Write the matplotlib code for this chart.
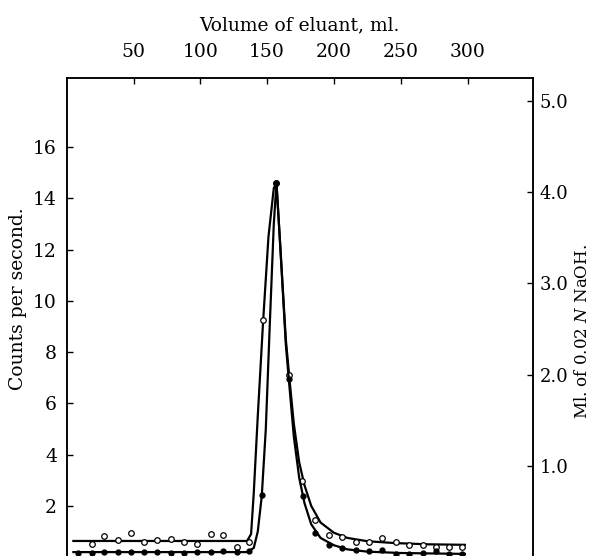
import matplotlib
matplotlib.use("Agg")
import matplotlib.pyplot as plt

plt.rcParams['font.family'] = ['DejaVu Serif']
plt.rcParams['mathtext.fontset'] = 'dejavuserif'

# --- data ---
# open circles: counts per second (left axis)
open_vol = [18.7, 28.1, 38.1, 47.9, 58, 67.8, 77.8, 87.5, 97.5, 107.7, 117.1, 127.1,
            136.6, 147, 157, 166.5, 176.2, 186.2, 196.4, 206.4, 216.4, 226.3, 236.3,
            246.3, 256.2, 266.3, 276.2, 286.2, 296.2]
open_counts = [0.52, 0.84, 0.68, 0.93, 0.60, 0.66, 0.72, 0.58, 0.53, 0.90, 0.85, 0.41,
               0.58, 9.24, 14.6, 7.09, 2.96, 1.43, 0.87, 0.77, 0.58, 0.60, 0.75,
               0.60, 0.48, 0.48, 0.38, 0.41, 0.38]

# smooth curve drawn through the open circles
open_curve_vol = [5, 135, 138, 140, 143, 147, 151, 155, 157, 160, 164, 167, 170, 174,
                  178, 183, 190, 200, 210, 225, 245, 270, 298]
open_curve_counts = [0.63, 0.63, 0.9, 2.5, 5.5, 9.2, 12.5, 14.4, 14.6, 12.0, 8.5, 6.8,
                     5.2, 3.7, 2.8, 2.0, 1.35, 0.95, 0.75, 0.62, 0.55, 0.5, 0.48]

# filled circles: ml of 0.02 N NaOH (right axis)
fill_vol = [8.7, 18.7, 28.1, 38.1, 47.9, 58, 67.8, 77.8, 87.5, 97.5, 107.7, 117.1, 127.1,
            136.6, 146.3, 157, 166.5, 177, 186, 196.6, 206.4, 216.4, 226.3, 236.3,
            246.3, 256.2, 266.3, 276.2, 286.2, 296.2]
fill_ml = [0.05, 0.05, 0.06, 0.06, 0.06, 0.06, 0.06, 0.05, 0.05, 0.06, 0.06, 0.07, 0.06,
           0.07, 0.68, 4.1, 1.95, 0.67, 0.26, 0.13, 0.10, 0.08, 0.07, 0.075,
           0.035, 0.035, 0.05, 0.07, 0.035, 0.03]

fill_curve_vol = [5, 135, 140, 143, 146, 149, 152, 155, 157, 160, 164, 167, 170, 174,
                  178, 183, 190, 200, 210, 225, 250, 298]
fill_curve_ml = [0.055, 0.055, 0.1, 0.28, 0.67, 1.4, 2.55, 3.65, 4.1, 3.37, 2.33, 1.82,
                 1.32, 0.87, 0.59, 0.36, 0.21, 0.13, 0.085, 0.06, 0.045, 0.035]

x_ticks = [50, 100, 150, 200, 250, 300]
left_ticks = [2, 4, 6, 8, 10, 12, 14, 16]
right_ticks = [1.0, 2.0, 3.0, 4.0, 5.0]

fig = plt.figure(figsize=(5.94, 5.56), dpi=100)
ax = fig.add_axes([0.1123, -0.002, 0.785, 0.8617])
ax2 = ax.twinx()

ax.set_xlim(0, 349)
ax.set_ylim(0, 18.7)
ax2.set_ylim(0, 5.25)

ax.plot(open_curve_vol, open_curve_counts, color='black', lw=1.6, zorder=2)
ax.plot(open_vol, open_counts, 'o', ms=4, mfc='white', mec='black', mew=0.9, zorder=3)
ax2.plot(fill_curve_vol, fill_curve_ml, color='black', lw=1.6, zorder=2)
ax2.plot(fill_vol, fill_ml, 'o', ms=3.5, color='black', zorder=3)

fs = 13.5

# top x axis only
ax.xaxis.tick_top()
ax.xaxis.set_label_position('top')
ax.set_xticks(x_ticks)
ax.set_xticklabels([str(v) for v in x_ticks])
ax.tick_params(axis='x', direction='in', length=4, pad=12, labelsize=fs, width=1)
ax.set_xlabel('Volume of eluant, ml.', fontsize=fs, labelpad=9)

ax.set_yticks(left_ticks)
ax.tick_params(axis='y', direction='in', length=4, pad=7, labelsize=fs, width=1)
ax.set_ylabel('Counts per second.', fontsize=fs)
ax.yaxis.set_label_coords(-0.085, 0.54)

ax2.set_yticks(right_ticks)
ax2.set_yticklabels(['%.1f' % v for v in right_ticks])
ax2.tick_params(axis='y', direction='in', length=4, pad=5, labelsize=13, width=1)
ax2.set_ylabel('Ml. of 0.02 $N$ NaOH.', fontsize=12)
ax2.yaxis.set_label_coords(1.088, 0.47)

for a in (ax, ax2):
    for s in a.spines.values():
        s.set_linewidth(1.1)

fig.savefig('out.png', dpi=100)
